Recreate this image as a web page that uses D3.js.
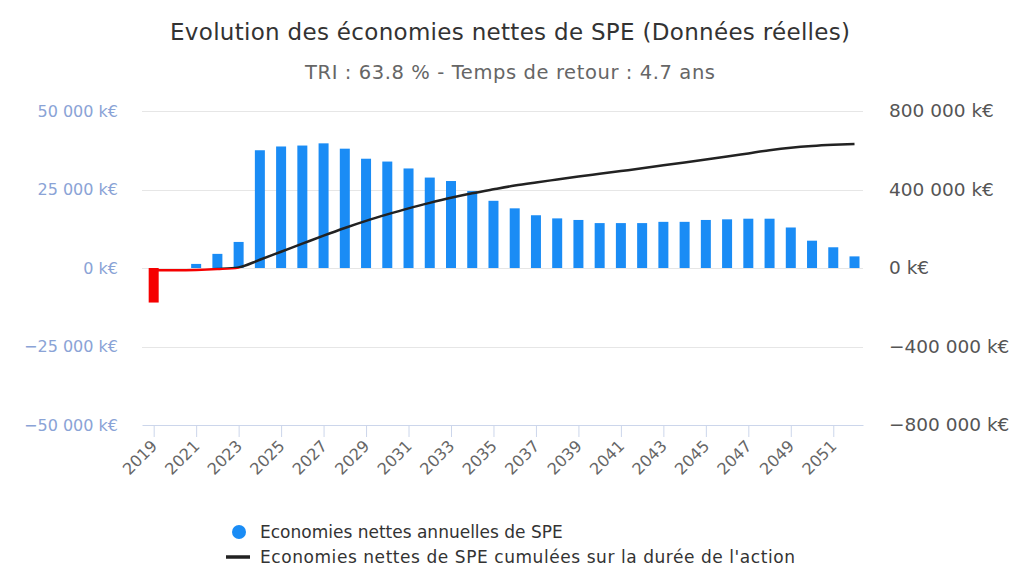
<!DOCTYPE html>
<html>
<head>
<meta charset="utf-8">
<script src="https://cdn.jsdelivr.net/npm/d3@7/dist/d3.min.js"></script>
<style>
  html, body { margin: 0; padding: 0; background: #fff; }
  svg { display: block; font-family: "DejaVu Sans", sans-serif; }
</style>
</head>
<body>
<svg id="chart" width="1014" height="588"></svg>
<script>
const years = [2019,2020,2021,2022,2023,2024,2025,2026,2027,2028,2029,2030,2031,2032,2033,2034,2035,2036,2037,2038,2039,2040,2041,2042,2043,2044,2045,2046,2047,2048,2049,2050,2051,2052];
const annualSavings = [-11000,0,1300,4500,8300,37500,38700,39000,39700,38000,34800,33900,31700,28800,27700,24500,21400,19000,16800,15800,15300,14300,14300,14300,14700,14700,15300,15500,15700,15700,12900,8700,6600,3700];
const cumulativeSavings = [-11000,-11000,-9700,-5200,3100,42000,83000,124000,165000,204000,240000,273000,304000,332000,358000,381000,401000,420000,436000,451000,466000,480000,494000,508000,523000,538000,553000,568000,584000,600000,613000,622000,628000,632000];
const leftTicks = [-50000,-25000,0,25000,50000];
const rightTicks = [-800000,-400000,0,400000,800000];
const xTickYears = [2019,2021,2023,2025,2027,2029,2031,2033,2035,2037,2039,2041,2043,2045,2047,2049,2051];
const titleText = "Evolution des économies nettes de SPE (Données réelles)";
const subtitleText = "TRI : 63.8 % - Temps de retour : 4.7 ans";
const legendLabels = ["Economies nettes annuelles de SPE", "Economies nettes de SPE cumulées sur la durée de l'action"];

const svg = d3.select("#chart");
const plotLeft = 142, plotRight = 863, plotTop = 111, plotBottom = 425;

const x = d3.scaleLinear().domain([2018.45, 2052.4]).range([plotLeft, plotRight]);
const yL = d3.scaleLinear().domain([-50000, 50000]).range([plotBottom, plotTop]);
const yR = d3.scaleLinear().domain([-800000, 800000]).range([plotBottom, plotTop]);

const fmt = v => {
  const s = d3.format(",")(Math.abs(v)).replace(/,/g, " ");
  return (v < 0 ? "\u2212" : "") + s + " k€";
};

// title
svg.append("text").attr("x", 510).attr("y", 40).attr("text-anchor", "middle")
  .attr("font-size", 23).attr("fill", "#333")
  .attr("textLength", 680).attr("lengthAdjust", "spacing").text(titleText);
svg.append("text").attr("x", 510).attr("y", 79).attr("text-anchor", "middle")
  .attr("font-size", 19.5).attr("fill", "#666")
  .attr("textLength", 410).attr("lengthAdjust", "spacing").text(subtitleText);

// grid lines
const grid = svg.append("g");
grid.selectAll("line").data(leftTicks.filter(d => d !== -50000)).join("line")
  .attr("x1", plotLeft).attr("x2", plotRight)
  .attr("y1", d => Math.round(yL(d)) + 0.5).attr("y2", d => Math.round(yL(d)) + 0.5)
  .attr("stroke", "#e6e6e6").attr("stroke-width", 1);

// left axis
const leftAxis = d3.axisLeft(yL).tickValues(leftTicks).tickFormat(fmt).tickSize(0).tickPadding(24);
const gL = svg.append("g").attr("transform", `translate(${plotLeft},0)`).call(leftAxis);
gL.select(".domain").remove();
gL.selectAll("text").attr("font-size", 16).attr("fill", "#8aa3d6").attr("font-family", "DejaVu Sans, sans-serif");

// right axis
const rightAxis = d3.axisRight(yR).tickValues(rightTicks).tickFormat(fmt).tickSize(0).tickPadding(26);
const gR = svg.append("g").attr("transform", `translate(${plotRight},0)`).call(rightAxis);
gR.select(".domain").remove();
gR.selectAll("text").attr("font-size", 18.5).attr("fill", "#555").attr("font-family", "DejaVu Sans, sans-serif");

// bottom axis
const bottomAxis = d3.axisBottom(x).tickValues(xTickYears).tickFormat(d3.format("d")).tickSizeInner(12).tickSizeOuter(0).tickPadding(4);
const gB = svg.append("g").attr("transform", `translate(0,${plotBottom})`).call(bottomAxis);
gB.select(".domain").attr("stroke", "#ccd6eb");
gB.selectAll(".tick line").attr("stroke", "#ccd6eb");
gB.selectAll(".tick text")
  .attr("font-size", 16).attr("fill", "#666").attr("font-family", "DejaVu Sans, sans-serif")
  .attr("text-anchor", "end").attr("dy", "0")
  .attr("transform", "translate(4,22) rotate(-45)")
  .attr("y", 0).attr("x", 0);

// bars
const barW = 10;
svg.append("g").selectAll("rect").data(years.map((yr, i) => ({yr, v: annualSavings[i]}))).join("rect")
  .attr("x", d => x(d.yr) - barW / 2)
  .attr("width", barW)
  .attr("y", d => Math.min(yL(d.v), yL(0)))
  .attr("height", d => Math.abs(yL(d.v) - yL(0)))
  .attr("fill", d => d.v < 0 ? "#f50000" : "#1a8cf5");

// cumulative line with zones
const lineData = years.map((yr, i) => ({yr, v: cumulativeSavings[i]}));
const line = d3.line().x(d => x(d.yr)).y(d => yR(d.v)).curve(d3.curveMonotoneX);
const defs = svg.append("defs");
defs.append("clipPath").attr("id", "above").append("rect")
  .attr("x", 0).attr("y", 0).attr("width", 1014).attr("height", yR(0));
defs.append("clipPath").attr("id", "below").append("rect")
  .attr("x", 0).attr("y", yR(0)).attr("width", 1014).attr("height", 588);
svg.append("path").datum(lineData).attr("d", line).attr("fill", "none")
  .attr("stroke", "#222").attr("stroke-width", 2.5).attr("clip-path", "url(#above)");
svg.append("path").datum(lineData).attr("d", line).attr("fill", "none")
  .attr("stroke", "#f50000").attr("stroke-width", 2.5).attr("clip-path", "url(#below)");

// legend
const lg = svg.append("g");
lg.append("circle").attr("cx", 239).attr("cy", 532).attr("r", 7).attr("fill", "#1a8cf5");
lg.append("text").attr("x", 260).attr("y", 538).attr("font-size", 17).attr("fill", "#333").text(legendLabels[0]);
lg.append("line").attr("x1", 226).attr("x2", 250).attr("y1", 557).attr("y2", 557).attr("stroke", "#222").attr("stroke-width", 3.5);
lg.append("text").attr("x", 260).attr("y", 563).attr("font-size", 17).attr("fill", "#333")
  .attr("textLength", 535).attr("lengthAdjust", "spacing").text(legendLabels[1]);
</script>
</body>
</html>
